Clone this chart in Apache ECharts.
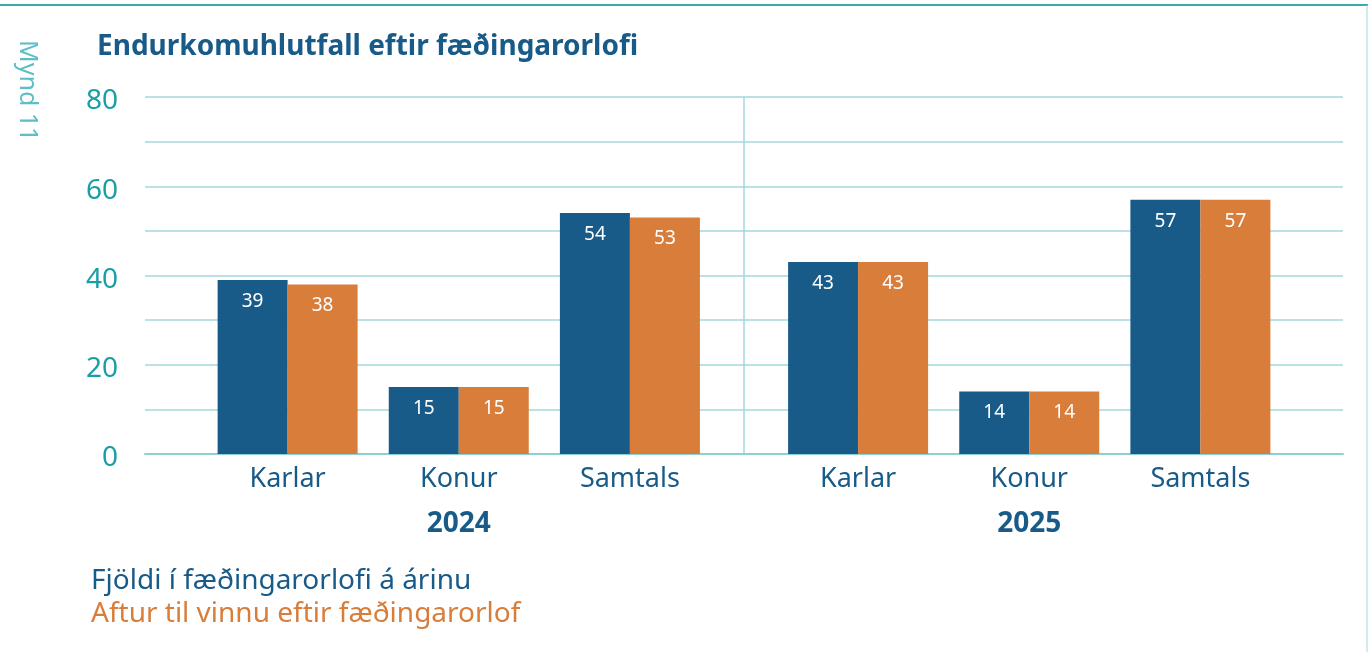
<!DOCTYPE html>
<html>
<head>
<meta charset="utf-8">
<script src="https://cdn.jsdelivr.net/npm/echarts@6/dist/echarts.min.js"></script>
<style>
  html, body { margin: 0; padding: 0; background: #fff; }
  #main { width: 1368px; height: 652px; }
</style>
</head>
<body>
<div id="main"></div>
<script>
// gögn
const years = ['2024', '2025'];
const groups = ['Karlar', 'Konur', 'Samtals'];
const fjoldi = [39, 15, 54, 43, 14, 57];
const aftur = [38, 15, 53, 43, 14, 57];
const seriesNames = ['Fjöldi í fæðingarorlofi á árinu', 'Aftur til vinnu eftir fæðingarorlof'];
const yTicks = [0, 20, 40, 60, 80];

const BLUE = '#185b89';
const ORANGE = '#d97d3b';
const TEAL = '#1a9ea6';
const GRID = '#a3d9dd';
const FONT = 'Noto Sans';

// staðsetning flokka á x-ás: bil milli ára er stærra
const groupStart = [5 / 6, 25 / 6];
const xPos = [];
const xName = {};
years.forEach((y, g) => {
    groups.forEach((c, i) => {
        const x = groupStart[g] + i;
        xPos.push(x);
        xName[x.toFixed(3)] = c;
    });
});
const yearPos = years.map((y, g) => groupStart[g] + 1);
const yearName = {};
yearPos.forEach((x, g) => { yearName[x.toFixed(3)] = years[g]; });

const barLabel = {
    show: true,
    position: 'insideTop',
    distance: 12,
    color: '#fff',
    fontSize: 19,
    formatter: p => p.value[1],
};

var chart = echarts.init(document.getElementById('main'));
chart.setOption({
    animation: false,
    textStyle: { fontFamily: FONT },
    title: {
        text: 'Endurkomuhlutfall eftir fæðingarorlofi',
        left: 92,
        top: 28,
        textStyle: { color: BLUE, fontSize: 28, fontWeight: 'bold', fontFamily: FONT },
    },
    graphic: [
        {
            type: 'text',
            x: 27,
            y: 40,
            rotation: -Math.PI / 2,
            style: {
                text: 'Mynd 11',
                fill: '#5dbfc4',
                fontSize: 25,
                fontFamily: FONT,
                textAlign: 'left',
                textVerticalAlign: 'middle',
            },
        },
        {
            type: 'line',
            shape: { x1: 0, y1: 5, x2: 1368, y2: 5 },
            style: { stroke: '#3aa9ad', lineWidth: 2 },
        },
        {
            type: 'line',
            shape: { x1: 1367, y1: 5, x2: 1367, y2: 652 },
            style: { stroke: '#9fd8dc', lineWidth: 1 },
        },
    ],
    legend: {
        orient: 'vertical',
        left: 81,
        top: 562,
        itemWidth: 0,
        itemHeight: 0,
        itemGap: 5,
        icon: 'rect',
        selectedMode: false,
        data: [
            { name: seriesNames[0], textStyle: { color: BLUE } },
            { name: seriesNames[1], textStyle: { color: ORANGE } },
        ],
        textStyle: { fontSize: 28, fontFamily: FONT },
    },
    grid: { left: 145, right: 25, top: 97, bottom: 198 },
    xAxis: [
        {
            type: 'value',
            min: 0,
            max: 7,
            splitLine: { show: false },
            axisTick: { show: false },
            axisLine: { lineStyle: { color: '#8fd0d5', width: 2 } },
            axisLabel: {
                customValues: xPos,
                formatter: v => xName[v.toFixed(3)] || '',
                color: BLUE,
                fontSize: 27,
                margin: 12,
            },
        },
        {
            type: 'value',
            position: 'bottom',
            offset: 45,
            min: 0,
            max: 7,
            splitLine: { show: false },
            axisTick: { show: false },
            axisLine: { show: false },
            axisLabel: {
                customValues: yearPos,
                formatter: v => yearName[v.toFixed(3)] || '',
                color: BLUE,
                fontSize: 28,
                fontWeight: 'bold',
                margin: 11,
            },
        },
    ],
    yAxis: {
        type: 'value',
        min: 0,
        max: 80,
        interval: 10,
        axisLine: { show: false },
        axisTick: { show: false },
        splitLine: { lineStyle: { color: GRID, width: 1.5 } },
        axisLabel: {
            formatter: v => (yTicks.includes(v) ? '{a|' + v + '}' : ''),
            margin: 27,
            rich: {
                a: { color: TEAL, fontSize: 28, fontFamily: FONT, padding: [9, 0, 0, 0] },
            },
        },
    },
    series: [
        {
            name: seriesNames[0],
            type: 'bar',
            barWidth: 70,
            barGap: '0%',
            itemStyle: { color: BLUE },
            data: xPos.map((x, i) => [x, fjoldi[i]]),
            label: barLabel,
        },
        {
            name: seriesNames[1],
            type: 'bar',
            barWidth: 70,
            barGap: '0%',
            itemStyle: { color: ORANGE },
            data: xPos.map((x, i) => [x, aftur[i]]),
            label: barLabel,
        },
        {
            // lóðrétt lína milli ára
            type: 'line',
            data: [],
            silent: true,
            markLine: {
                silent: true,
                symbol: 'none',
                label: { show: false },
                lineStyle: { color: GRID, width: 1.5, type: 'solid' },
                data: [{ xAxis: 3.5 }],
            },
        },
    ],
});
</script>
</body>
</html>
